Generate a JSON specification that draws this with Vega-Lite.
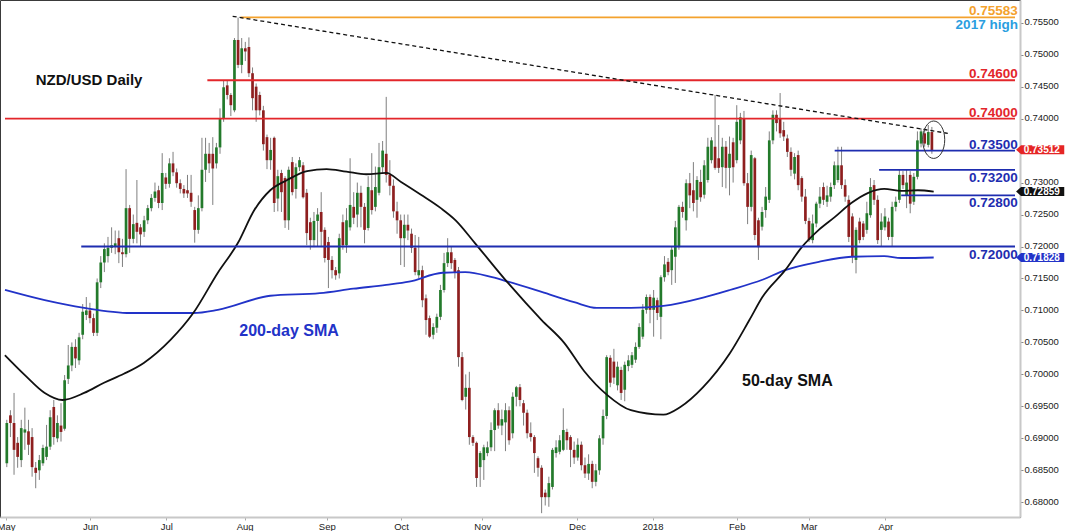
{
"$schema":"https://vega.github.io/schema/vega-lite/v6.json",
"width":1020,"height":517,
"autosize":{"type":"none"},
"padding":{"left":0,"top":0,"right":50,"bottom":14},
"background":"white",
"config":{"view":{"stroke":"#3a3a3a","strokeWidth":1},"font":"Liberation Sans"},
"resolve":{"axis":{"x":"independent","y":"independent"}},
"datasets":{
"candles":[
{"i":0,"o":0.6861,"h":0.6929,"l":0.6855,"c":0.6924},
{"i":1,"o":0.6936,"h":0.6944,"l":0.6902,"c":0.6924},
{"i":2,"o":0.6924,"h":0.6971,"l":0.6843,"c":0.6882},
{"i":3,"o":0.6893,"h":0.6902,"l":0.6854,"c":0.6871},
{"i":4,"o":0.6866,"h":0.6929,"l":0.6855,"c":0.6916},
{"i":5,"o":0.6909,"h":0.6948,"l":0.6882,"c":0.6914},
{"i":6,"o":0.6911,"h":0.6929,"l":0.6874,"c":0.6890},
{"i":7,"o":0.6902,"h":0.6916,"l":0.6840,"c":0.6855},
{"i":8,"o":0.6854,"h":0.6863,"l":0.6822,"c":0.6846},
{"i":9,"o":0.6850,"h":0.6874,"l":0.6835,"c":0.6866},
{"i":10,"o":0.6861,"h":0.6890,"l":0.6857,"c":0.6885},
{"i":11,"o":0.6871,"h":0.6921,"l":0.6866,"c":0.6887},
{"i":12,"o":0.6887,"h":0.6944,"l":0.6882,"c":0.6933},
{"i":13,"o":0.6949,"h":0.6960,"l":0.6890,"c":0.6902},
{"i":14,"o":0.6900,"h":0.6936,"l":0.6894,"c":0.6924},
{"i":15,"o":0.6920,"h":0.6955,"l":0.6895,"c":0.6910},
{"i":16,"o":0.6915,"h":0.6999,"l":0.6912,"c":0.6991},
{"i":17,"o":0.6993,"h":0.7046,"l":0.6985,"c":0.7014},
{"i":18,"o":0.7014,"h":0.7050,"l":0.7005,"c":0.7043},
{"i":19,"o":0.7043,"h":0.7055,"l":0.7010,"c":0.7025},
{"i":20,"o":0.7022,"h":0.7065,"l":0.7015,"c":0.7058},
{"i":21,"o":0.7062,"h":0.7110,"l":0.7055,"c":0.7098},
{"i":22,"o":0.7093,"h":0.7121,"l":0.7085,"c":0.7100},
{"i":23,"o":0.7100,"h":0.7112,"l":0.7080,"c":0.7088},
{"i":24,"o":0.7088,"h":0.7095,"l":0.7060,"c":0.7065},
{"i":25,"o":0.7065,"h":0.7150,"l":0.7060,"c":0.7144},
{"i":26,"o":0.7144,"h":0.7185,"l":0.7135,"c":0.7175},
{"i":27,"o":0.7175,"h":0.7205,"l":0.7160,"c":0.7196},
{"i":28,"o":0.7185,"h":0.7215,"l":0.7175,"c":0.7198},
{"i":29,"o":0.7198,"h":0.7230,"l":0.7190,"c":0.7202},
{"i":30,"o":0.7200,"h":0.7225,"l":0.7188,"c":0.7205},
{"i":31,"o":0.7213,"h":0.7225,"l":0.7174,"c":0.7191},
{"i":32,"o":0.7191,"h":0.7212,"l":0.7168,"c":0.7188},
{"i":33,"o":0.7188,"h":0.7321,"l":0.7183,"c":0.7260},
{"i":34,"o":0.7260,"h":0.7265,"l":0.7190,"c":0.7212},
{"i":35,"o":0.7212,"h":0.7250,"l":0.7205,"c":0.7235},
{"i":36,"o":0.7237,"h":0.7304,"l":0.7205,"c":0.7223},
{"i":37,"o":0.7230,"h":0.7235,"l":0.7200,"c":0.7219},
{"i":38,"o":0.7223,"h":0.7248,"l":0.7215,"c":0.7241},
{"i":39,"o":0.7241,"h":0.7265,"l":0.7235,"c":0.7260},
{"i":40,"o":0.7260,"h":0.7282,"l":0.7255,"c":0.7276},
{"i":41,"o":0.7276,"h":0.7300,"l":0.7270,"c":0.7286},
{"i":42,"o":0.7288,"h":0.7295,"l":0.7260,"c":0.7268},
{"i":43,"o":0.7268,"h":0.7346,"l":0.7257,"c":0.7315},
{"i":44,"o":0.7308,"h":0.7315,"l":0.7290,"c":0.7298},
{"i":45,"o":0.7298,"h":0.7338,"l":0.7292,"c":0.7330},
{"i":46,"o":0.7330,"h":0.7348,"l":0.7310,"c":0.7316},
{"i":47,"o":0.7316,"h":0.7322,"l":0.7292,"c":0.7299},
{"i":48,"o":0.7299,"h":0.7305,"l":0.7283,"c":0.7290},
{"i":49,"o":0.7290,"h":0.7296,"l":0.7276,"c":0.7283},
{"i":50,"o":0.7288,"h":0.7312,"l":0.7276,"c":0.7283},
{"i":51,"o":0.7284,"h":0.7312,"l":0.7262,"c":0.7270},
{"i":52,"o":0.7257,"h":0.7262,"l":0.7206,"c":0.7226},
{"i":53,"o":0.7226,"h":0.7280,"l":0.7220,"c":0.7260},
{"i":54,"o":0.7260,"h":0.7370,"l":0.7255,"c":0.7320},
{"i":55,"o":0.7320,"h":0.7370,"l":0.7301,"c":0.7345},
{"i":56,"o":0.7345,"h":0.7362,"l":0.7315,"c":0.7330},
{"i":57,"o":0.7345,"h":0.7371,"l":0.7265,"c":0.7322},
{"i":58,"o":0.7330,"h":0.7362,"l":0.7322,"c":0.7355},
{"i":59,"o":0.7355,"h":0.7416,"l":0.7345,"c":0.7401},
{"i":60,"o":0.7401,"h":0.7460,"l":0.7395,"c":0.7449},
{"i":61,"o":0.7452,"h":0.7460,"l":0.7430,"c":0.7437},
{"i":62,"o":0.7437,"h":0.7440,"l":0.7404,"c":0.7421},
{"i":63,"o":0.7413,"h":0.7526,"l":0.7410,"c":0.7523},
{"i":64,"o":0.7523,"h":0.7558,"l":0.7479,"c":0.7484},
{"i":65,"o":0.7484,"h":0.7526,"l":0.7471,"c":0.7510},
{"i":66,"o":0.7510,"h":0.7520,"l":0.7490,"c":0.7505},
{"i":67,"o":0.7512,"h":0.7527,"l":0.7465,"c":0.7471},
{"i":68,"o":0.7471,"h":0.7480,"l":0.7413,"c":0.7432},
{"i":69,"o":0.7450,"h":0.7455,"l":0.7395,"c":0.7413},
{"i":70,"o":0.7437,"h":0.7442,"l":0.7405,"c":0.7413},
{"i":71,"o":0.7413,"h":0.7420,"l":0.7350,"c":0.7360},
{"i":72,"o":0.7371,"h":0.7375,"l":0.7321,"c":0.7335},
{"i":73,"o":0.7335,"h":0.7370,"l":0.7320,"c":0.7351},
{"i":74,"o":0.7370,"h":0.7372,"l":0.7254,"c":0.7268},
{"i":75,"o":0.7275,"h":0.7320,"l":0.7255,"c":0.7310},
{"i":76,"o":0.7315,"h":0.7320,"l":0.7254,"c":0.7285},
{"i":77,"o":0.7307,"h":0.7310,"l":0.7229,"c":0.7241},
{"i":78,"o":0.7241,"h":0.7325,"l":0.7226,"c":0.7320},
{"i":79,"o":0.7332,"h":0.7340,"l":0.7280,"c":0.7285},
{"i":80,"o":0.7290,"h":0.7330,"l":0.7275,"c":0.7324},
{"i":81,"o":0.7324,"h":0.7340,"l":0.7318,"c":0.7335},
{"i":82,"o":0.7327,"h":0.7332,"l":0.7275,"c":0.7277},
{"i":83,"o":0.7284,"h":0.7290,"l":0.7202,"c":0.7221},
{"i":84,"o":0.7238,"h":0.7245,"l":0.7195,"c":0.7210},
{"i":85,"o":0.7210,"h":0.7254,"l":0.7199,"c":0.7240},
{"i":86,"o":0.7240,"h":0.7260,"l":0.7200,"c":0.7250},
{"i":87,"o":0.7254,"h":0.7285,"l":0.7199,"c":0.7223},
{"i":88,"o":0.7226,"h":0.7230,"l":0.7175,"c":0.7182},
{"i":89,"o":0.7207,"h":0.7215,"l":0.7135,"c":0.7179},
{"i":90,"o":0.7179,"h":0.7185,"l":0.7150,"c":0.7163},
{"i":91,"o":0.7163,"h":0.7168,"l":0.7148,"c":0.7155},
{"i":92,"o":0.7158,"h":0.7220,"l":0.7150,"c":0.7213},
{"i":93,"o":0.7238,"h":0.7250,"l":0.7195,"c":0.7202},
{"i":94,"o":0.7202,"h":0.7260,"l":0.7190,"c":0.7241},
{"i":95,"o":0.7230,"h":0.7338,"l":0.7225,"c":0.7265},
{"i":96,"o":0.7262,"h":0.7285,"l":0.7235,"c":0.7245},
{"i":97,"o":0.7250,"h":0.7300,"l":0.7230,"c":0.7284},
{"i":98,"o":0.7284,"h":0.7295,"l":0.7230,"c":0.7262},
{"i":99,"o":0.7262,"h":0.7268,"l":0.7205,"c":0.7226},
{"i":100,"o":0.7229,"h":0.7310,"l":0.7225,"c":0.7293},
{"i":101,"o":0.7288,"h":0.7346,"l":0.7250,"c":0.7257},
{"i":102,"o":0.7262,"h":0.7325,"l":0.7255,"c":0.7293},
{"i":103,"o":0.7284,"h":0.7362,"l":0.7280,"c":0.7324},
{"i":104,"o":0.7324,"h":0.7365,"l":0.7315,"c":0.7350},
{"i":105,"o":0.7345,"h":0.7434,"l":0.7300,"c":0.7312},
{"i":106,"o":0.7312,"h":0.7335,"l":0.7280,"c":0.7295},
{"i":107,"o":0.7295,"h":0.7305,"l":0.7245,"c":0.7255},
{"i":108,"o":0.7255,"h":0.7270,"l":0.7220,"c":0.7241},
{"i":109,"o":0.7241,"h":0.7250,"l":0.7171,"c":0.7213},
{"i":110,"o":0.7213,"h":0.7250,"l":0.7168,"c":0.7234},
{"i":111,"o":0.7234,"h":0.7250,"l":0.7210,"c":0.7225},
{"i":112,"o":0.7220,"h":0.7228,"l":0.7190,"c":0.7198},
{"i":113,"o":0.7198,"h":0.7218,"l":0.7155,"c":0.7160},
{"i":114,"o":0.7155,"h":0.7215,"l":0.7150,"c":0.7163},
{"i":115,"o":0.7163,"h":0.7170,"l":0.7105,"c":0.7116},
{"i":116,"o":0.7119,"h":0.7125,"l":0.7062,"c":0.7085},
{"i":117,"o":0.7088,"h":0.7092,"l":0.7057,"c":0.7059},
{"i":118,"o":0.7062,"h":0.7080,"l":0.7055,"c":0.7074},
{"i":119,"o":0.7073,"h":0.7095,"l":0.7065,"c":0.7090},
{"i":120,"o":0.7090,"h":0.7140,"l":0.7085,"c":0.7132},
{"i":121,"o":0.7132,"h":0.7190,"l":0.7128,"c":0.7174},
{"i":122,"o":0.7174,"h":0.7213,"l":0.7168,"c":0.7191},
{"i":123,"o":0.7191,"h":0.7200,"l":0.7165,"c":0.7174},
{"i":124,"o":0.7179,"h":0.7182,"l":0.7150,"c":0.7160},
{"i":125,"o":0.7163,"h":0.7168,"l":0.7012,"c":0.7027},
{"i":126,"o":0.7027,"h":0.7035,"l":0.6958,"c":0.6960},
{"i":127,"o":0.6965,"h":0.7000,"l":0.6945,"c":0.6979},
{"i":128,"o":0.6979,"h":0.7004,"l":0.6890,"c":0.6902},
{"i":129,"o":0.6902,"h":0.6905,"l":0.6888,"c":0.6893},
{"i":130,"o":0.6893,"h":0.6895,"l":0.6824,"c":0.6838},
{"i":131,"o":0.6855,"h":0.6880,"l":0.6824,"c":0.6877},
{"i":132,"o":0.6866,"h":0.6890,"l":0.6835,"c":0.6886},
{"i":133,"o":0.6877,"h":0.6895,"l":0.6872,"c":0.6886},
{"i":134,"o":0.6886,"h":0.6925,"l":0.6880,"c":0.6913},
{"i":135,"o":0.6913,"h":0.6947,"l":0.6880,"c":0.6944},
{"i":136,"o":0.6944,"h":0.6955,"l":0.6915,"c":0.6920},
{"i":137,"o":0.6920,"h":0.6945,"l":0.6905,"c":0.6930},
{"i":138,"o":0.6925,"h":0.6955,"l":0.6880,"c":0.6944},
{"i":139,"o":0.6944,"h":0.6950,"l":0.6890,"c":0.6897},
{"i":140,"o":0.6908,"h":0.6972,"l":0.6900,"c":0.6965},
{"i":141,"o":0.6965,"h":0.6982,"l":0.6950,"c":0.6980},
{"i":142,"o":0.6980,"h":0.6985,"l":0.6950,"c":0.6960},
{"i":143,"o":0.6955,"h":0.6960,"l":0.6920,"c":0.6940},
{"i":144,"o":0.6940,"h":0.6945,"l":0.6900,"c":0.6908},
{"i":145,"o":0.6908,"h":0.6925,"l":0.6895,"c":0.6902},
{"i":146,"o":0.6902,"h":0.6905,"l":0.6846,"c":0.6877},
{"i":147,"o":0.6869,"h":0.6872,"l":0.6840,"c":0.6854},
{"i":148,"o":0.6854,"h":0.6858,"l":0.6783,"c":0.6808},
{"i":149,"o":0.6815,"h":0.6820,"l":0.6795,"c":0.6808},
{"i":150,"o":0.6808,"h":0.6840,"l":0.6793,"c":0.6830},
{"i":151,"o":0.6824,"h":0.6885,"l":0.6820,"c":0.6882},
{"i":152,"o":0.6877,"h":0.6897,"l":0.6870,"c":0.6886},
{"i":153,"o":0.6879,"h":0.6905,"l":0.6875,"c":0.6897},
{"i":154,"o":0.6882,"h":0.6947,"l":0.6880,"c":0.6913},
{"i":155,"o":0.6910,"h":0.6915,"l":0.6882,"c":0.6897},
{"i":156,"o":0.6902,"h":0.6905,"l":0.6855,"c":0.6882},
{"i":157,"o":0.6882,"h":0.6895,"l":0.6860,"c":0.6870},
{"i":158,"o":0.6870,"h":0.6900,"l":0.6865,"c":0.6890},
{"i":159,"o":0.6890,"h":0.6895,"l":0.6850,"c":0.6858},
{"i":160,"o":0.6858,"h":0.6870,"l":0.6838,"c":0.6845},
{"i":161,"o":0.6845,"h":0.6875,"l":0.6835,"c":0.6860},
{"i":162,"o":0.6860,"h":0.6865,"l":0.6822,"c":0.6832},
{"i":163,"o":0.6832,"h":0.6860,"l":0.6825,"c":0.6850},
{"i":164,"o":0.6850,"h":0.6905,"l":0.6843,"c":0.6900},
{"i":165,"o":0.6900,"h":0.6945,"l":0.6890,"c":0.6935},
{"i":166,"o":0.6935,"h":0.7030,"l":0.6930,"c":0.7027},
{"i":167,"o":0.7026,"h":0.7030,"l":0.6980,"c":0.6987},
{"i":168,"o":0.7020,"h":0.7040,"l":0.6985,"c":0.6995},
{"i":169,"o":0.6983,"h":0.7020,"l":0.6975,"c":0.7012},
{"i":170,"o":0.7007,"h":0.7012,"l":0.6960,"c":0.6971},
{"i":171,"o":0.6976,"h":0.7020,"l":0.6958,"c":0.7015},
{"i":172,"o":0.7013,"h":0.7030,"l":0.7005,"c":0.7022},
{"i":173,"o":0.7015,"h":0.7035,"l":0.7010,"c":0.7030},
{"i":174,"o":0.7023,"h":0.7050,"l":0.7018,"c":0.7043},
{"i":175,"o":0.7043,"h":0.7080,"l":0.7040,"c":0.7074},
{"i":176,"o":0.7059,"h":0.7110,"l":0.7055,"c":0.7101},
{"i":177,"o":0.7101,"h":0.7125,"l":0.7095,"c":0.7121},
{"i":178,"o":0.7121,"h":0.7125,"l":0.7080,"c":0.7101},
{"i":179,"o":0.7101,"h":0.7132,"l":0.7059,"c":0.7120},
{"i":180,"o":0.7116,"h":0.7120,"l":0.7085,"c":0.7096},
{"i":181,"o":0.7090,"h":0.7155,"l":0.7055,"c":0.7152},
{"i":182,"o":0.7152,"h":0.7185,"l":0.7145,"c":0.7172},
{"i":183,"o":0.7176,"h":0.7182,"l":0.7155,"c":0.7160},
{"i":184,"o":0.7163,"h":0.7200,"l":0.7140,"c":0.7195},
{"i":185,"o":0.7184,"h":0.7240,"l":0.7143,"c":0.7230},
{"i":186,"o":0.7199,"h":0.7265,"l":0.7195,"c":0.7262},
{"i":187,"o":0.7262,"h":0.7270,"l":0.7245,"c":0.7254},
{"i":188,"o":0.7241,"h":0.7305,"l":0.7225,"c":0.7299},
{"i":189,"o":0.7299,"h":0.7315,"l":0.7260,"c":0.7280},
{"i":190,"o":0.7288,"h":0.7332,"l":0.7255,"c":0.7268},
{"i":191,"o":0.7273,"h":0.7310,"l":0.7245,"c":0.7304},
{"i":192,"o":0.7301,"h":0.7320,"l":0.7270,"c":0.7277},
{"i":193,"o":0.7281,"h":0.7335,"l":0.7275,"c":0.7327},
{"i":194,"o":0.7304,"h":0.7370,"l":0.7300,"c":0.7356},
{"i":195,"o":0.7335,"h":0.7371,"l":0.7330,"c":0.7366},
{"i":196,"o":0.7356,"h":0.7437,"l":0.7320,"c":0.7323},
{"i":197,"o":0.7338,"h":0.7390,"l":0.7315,"c":0.7323},
{"i":198,"o":0.7324,"h":0.7370,"l":0.7293,"c":0.7356},
{"i":199,"o":0.7356,"h":0.7365,"l":0.7291,"c":0.7323},
{"i":200,"o":0.7323,"h":0.7372,"l":0.7280,"c":0.7345},
{"i":201,"o":0.7363,"h":0.7370,"l":0.7300,"c":0.7324},
{"i":202,"o":0.7335,"h":0.7421,"l":0.7330,"c":0.7395},
{"i":203,"o":0.7366,"h":0.7409,"l":0.7360,"c":0.7402},
{"i":204,"o":0.7400,"h":0.7412,"l":0.7295,"c":0.7299},
{"i":205,"o":0.7299,"h":0.7315,"l":0.7235,"c":0.7262},
{"i":206,"o":0.7262,"h":0.7350,"l":0.7255,"c":0.7343},
{"i":207,"o":0.7338,"h":0.7340,"l":0.7210,"c":0.7218},
{"i":208,"o":0.7241,"h":0.7245,"l":0.7179,"c":0.7199},
{"i":209,"o":0.7231,"h":0.7262,"l":0.7225,"c":0.7254},
{"i":210,"o":0.7257,"h":0.7293,"l":0.7245,"c":0.7278},
{"i":211,"o":0.7273,"h":0.7380,"l":0.7268,"c":0.7366},
{"i":212,"o":0.7366,"h":0.7413,"l":0.7360,"c":0.7406},
{"i":213,"o":0.7406,"h":0.7413,"l":0.7380,"c":0.7393},
{"i":214,"o":0.7400,"h":0.7440,"l":0.7370,"c":0.7377},
{"i":215,"o":0.7382,"h":0.7395,"l":0.7365,"c":0.7372},
{"i":216,"o":0.7369,"h":0.7375,"l":0.7340,"c":0.7348},
{"i":217,"o":0.7348,"h":0.7355,"l":0.7310,"c":0.7320},
{"i":218,"o":0.7314,"h":0.7346,"l":0.7305,"c":0.7340},
{"i":219,"o":0.7343,"h":0.7350,"l":0.7288,"c":0.7296},
{"i":220,"o":0.7307,"h":0.7310,"l":0.7270,"c":0.7278},
{"i":221,"o":0.7278,"h":0.7290,"l":0.7235,"c":0.7240},
{"i":222,"o":0.7240,"h":0.7245,"l":0.7207,"c":0.7210},
{"i":223,"o":0.7210,"h":0.7250,"l":0.7205,"c":0.7236},
{"i":224,"o":0.7236,"h":0.7270,"l":0.7230,"c":0.7267},
{"i":225,"o":0.7267,"h":0.7293,"l":0.7260,"c":0.7278},
{"i":226,"o":0.7293,"h":0.7300,"l":0.7265,"c":0.7273},
{"i":227,"o":0.7270,"h":0.7295,"l":0.7262,"c":0.7280},
{"i":228,"o":0.7278,"h":0.7300,"l":0.7270,"c":0.7293},
{"i":229,"o":0.7296,"h":0.7333,"l":0.7290,"c":0.7327},
{"i":230,"o":0.7304,"h":0.7356,"l":0.7300,"c":0.7327},
{"i":231,"o":0.7327,"h":0.7356,"l":0.7290,"c":0.7296},
{"i":232,"o":0.7296,"h":0.7305,"l":0.7270,"c":0.7278},
{"i":233,"o":0.7273,"h":0.7280,"l":0.7207,"c":0.7215},
{"i":234,"o":0.7247,"h":0.7252,"l":0.7174,"c":0.7184},
{"i":235,"o":0.7179,"h":0.7230,"l":0.7158,"c":0.7226},
{"i":236,"o":0.7239,"h":0.7245,"l":0.7205,"c":0.7210},
{"i":237,"o":0.7236,"h":0.7240,"l":0.7210,"c":0.7215},
{"i":238,"o":0.7226,"h":0.7270,"l":0.7220,"c":0.7252},
{"i":239,"o":0.7249,"h":0.7307,"l":0.7245,"c":0.7293},
{"i":240,"o":0.7296,"h":0.7304,"l":0.7265,"c":0.7273},
{"i":241,"o":0.7273,"h":0.7280,"l":0.7204,"c":0.7210},
{"i":242,"o":0.7226,"h":0.7252,"l":0.7200,"c":0.7239},
{"i":243,"o":0.7230,"h":0.7260,"l":0.7225,"c":0.7247},
{"i":244,"o":0.7239,"h":0.7245,"l":0.7210,"c":0.7215},
{"i":245,"o":0.7215,"h":0.7270,"l":0.7200,"c":0.7262},
{"i":246,"o":0.7262,"h":0.7278,"l":0.7255,"c":0.7270},
{"i":247,"o":0.7273,"h":0.7320,"l":0.7268,"c":0.7312},
{"i":248,"o":0.7312,"h":0.7318,"l":0.7290,"c":0.7296},
{"i":249,"o":0.7280,"h":0.7320,"l":0.7260,"c":0.7300},
{"i":250,"o":0.7312,"h":0.7318,"l":0.7252,"c":0.7267},
{"i":251,"o":0.7270,"h":0.7315,"l":0.7265,"c":0.7309},
{"i":252,"o":0.7309,"h":0.7380,"l":0.7305,"c":0.7366},
{"i":253,"o":0.7361,"h":0.7385,"l":0.7355,"c":0.7380},
{"i":254,"o":0.7377,"h":0.7385,"l":0.7356,"c":0.7361},
{"i":255,"o":0.7359,"h":0.7390,"l":0.7355,"c":0.7379},
{"i":256,"o":0.7379,"h":0.7387,"l":0.7345,"c":0.7351}
],
"sma50":[
{"i":-0.5,"v":0.7030},{"i":5,"v":0.6999},{"i":10.5,"v":0.6971},{"i":15.4,"v":0.6960},{"i":21.4,"v":0.6971},{"i":26.9,"v":0.6987},{"i":32.4,"v":0.7001},{"i":37.9,"v":0.7018},{"i":45.3,"v":0.7054},{"i":51.6,"v":0.7096},{"i":58.4,"v":0.7159},{"i":63.9,"v":0.7205},{"i":68.5,"v":0.7257},{"i":72.9,"v":0.7288},{"i":77.6,"v":0.7304},{"i":83.1,"v":0.7318},{"i":88.5,"v":0.7321},{"i":94,"v":0.7317},{"i":99.5,"v":0.7313},{"i":105,"v":0.7315},{"i":109.1,"v":0.7301},{"i":114.6,"v":0.7281},{"i":120.1,"v":0.7260},{"i":124.2,"v":0.7241},{"i":129.6,"v":0.7205},{"i":138.7,"v":0.7143},{"i":148,"v":0.7085},{"i":154.3,"v":0.7049},{"i":159.8,"v":0.7005},{"i":166.1,"v":0.6968},{"i":172.7,"v":0.6944},{"i":181.7,"v":0.6937},{"i":186.4,"v":0.6949},{"i":192.7,"v":0.6980},{"i":200.1,"v":0.7033},{"i":205.5,"v":0.7085},{"i":209.1,"v":0.7121},{"i":215.4,"v":0.7163},{"i":220,"v":0.7199},{"i":224.7,"v":0.7226},{"i":229.1,"v":0.7246},{"i":233.7,"v":0.7268},{"i":238.4,"v":0.7284},{"i":242.8,"v":0.7290},{"i":247.5,"v":0.7287},{"i":252.1,"v":0.7288},{"i":256.5,"v":0.72859}
],
"sma200":[
{"i":-0.5,"v":0.7132},{"i":10.5,"v":0.7116},{"i":21.4,"v":0.7104},{"i":34.3,"v":0.7096},{"i":51.6,"v":0.7096},{"i":58.4,"v":0.7101},{"i":72.9,"v":0.7123},{"i":86.6,"v":0.7127},{"i":95.9,"v":0.7134},{"i":105,"v":0.7140},{"i":111.3,"v":0.7145},{"i":120.6,"v":0.7159},{"i":126.9,"v":0.7160},{"i":134.3,"v":0.7152},{"i":138.7,"v":0.7145},{"i":148,"v":0.7129},{"i":157,"v":0.7113},{"i":163.3,"v":0.7104},{"i":172.7,"v":0.7104},{"i":181.7,"v":0.7107},{"i":192.7,"v":0.7120},{"i":200.1,"v":0.7132},{"i":209.1,"v":0.7148},{"i":215.4,"v":0.7163},{"i":224.7,"v":0.7176},{"i":233.7,"v":0.7184},{"i":242.8,"v":0.7185},{"i":247.5,"v":0.7182},{"i":256.5,"v":0.71828}
],
"levels":[
{"i":64.7,"i2":279,"v":0.75583,"kind":"high","label":"0.75583","side":"above"},
{"i":55.5,"i2":279,"v":0.746,"kind":"res","label":"0.74600","side":"above"},
{"i":-0.5,"i2":279,"v":0.74,"kind":"res","label":"0.74000","side":"above"},
{"i":229.1,"i2":279,"v":0.735,"kind":"sup","label":"0.73500","side":"above"},
{"i":241.4,"i2":279,"v":0.732,"kind":"sup","label":"0.73200","side":"below"},
{"i":247.5,"i2":279,"v":0.728,"kind":"sup","label":"0.72800","side":"below"},
{"i":20.6,"i2":279,"v":0.72,"kind":"sup","label":"0.72000","side":"below"}
],
"tags":[
{"v":0.73512,"label":"0.73512","kind":"price"},
{"v":0.72859,"label":"0.72859","kind":"sma50"},
{"v":0.71828,"label":"0.71828","kind":"sma200"}
]
},
"layer":[
{"data":{"name":"candles"},
 "mark":{"type":"rule","color":"#7f7f7f","strokeWidth":1},
 "encoding":{
  "x":{"field":"i","type":"quantitative","scale":{"domain":[-0.5,279],"nice":false,"zero":false},
   "axis":{"title":null,"grid":false,"values":[-0.2,23.07,44.17,65.81,88.56,109.11,131.58,157.8,178.7,202,221.9,243.1],
    "labelExpr":"datum.value < 10 ? 'May' : datum.value < 30 ? 'Jun' : datum.value < 50 ? 'Jul' : datum.value < 70 ? 'Aug' : datum.value < 100 ? 'Sep' : datum.value < 120 ? 'Oct' : datum.value < 140 ? 'Nov' : datum.value < 170 ? 'Dec' : datum.value < 190 ? '2018' : datum.value < 210 ? 'Feb' : datum.value < 230 ? 'Mar' : 'Apr'",
    "labelFlush":false,"labelOverlap":false,"labelBound":false,"domainColor":"#c8c8c8","domainWidth":2,"tickColor":"#aaaaaa","tickSize":3,"labelFontSize":9.5,"labelColor":"#1a1a1a","labelPadding":1}},
  "y":{"field":"l","type":"quantitative","scale":{"domain":[0.6777,0.75855],"nice":false,"zero":false},
   "axis":{"title":null,"grid":false,"orient":"right","values":[0.68,0.685,0.69,0.695,0.7,0.705,0.71,0.715,0.72,0.725,0.73,0.74,0.745,0.75,0.755],"format":".5f",
    "domainColor":"#c8c8c8","domainWidth":2,"tickColor":"#888888","tickSize":3,"labelFontSize":9.5,"labelColor":"#1a1a1a","labelPadding":1,"labelOffset":-1,"labelOverlap":false}},
  "y2":{"field":"h"}
 }},
{"data":{"name":"candles"},
 "mark":{"type":"bar","width":2.7,"minBandSize":1},
 "encoding":{
  "x":{"field":"i","type":"quantitative","axis":null},
  "y":{"field":"o","type":"quantitative","axis":null},
  "y2":{"field":"c"},
  "color":{"condition":{"test":"datum.c >= datum.o","value":"#237a2b"},"value":"#8e1f1f"}
 }},
{"data":{"name":"sma200"},
 "mark":{"type":"line","color":"#2233c8","strokeWidth":1.8,"interpolate":"monotone"},
 "encoding":{"x":{"field":"i","type":"quantitative","axis":null},"y":{"field":"v","type":"quantitative","axis":null}}},
{"data":{"name":"sma50"},
 "mark":{"type":"line","color":"#111111","strokeWidth":1.8,"interpolate":"monotone"},
 "encoding":{"x":{"field":"i","type":"quantitative","axis":null},"y":{"field":"v","type":"quantitative","axis":null}}},
{"data":{"name":"levels"},
 "mark":{"type":"rule","strokeWidth":1.8},
 "encoding":{
  "x":{"field":"i","type":"quantitative","axis":null},
  "x2":{"field":"i2"},
  "y":{"field":"v","type":"quantitative","axis":null},
  "color":{"field":"kind","type":"nominal","legend":null,
   "scale":{"domain":["high","res","sup","price","sma50","sma200","note","highnote"],"range":["#f4a22d","#e3262b","#1e2db0","#e52525","#111111","#2233c8","#111111","#2a9ee0"]}}
 }},
{"data":{"values":[{"i":62.5,"v":0.7560},{"i":260.4,"v":0.7377}]},
 "mark":{"type":"line","color":"#111111","strokeWidth":1.3,"strokeDash":[4,3]},
 "encoding":{"x":{"field":"i","type":"quantitative","axis":null},"y":{"field":"v","type":"quantitative","axis":null}}},
{"data":{"name":"levels"},
 "transform":[{"filter":"datum.side == 'above'"}],
 "mark":{"type":"text","align":"right","baseline":"alphabetic","dy":-2,"fontSize":13.5,"fontWeight":"bold"},
 "encoding":{"x":{"datum":279.8,"type":"quantitative","axis":null},"y":{"field":"v","type":"quantitative","axis":null},"text":{"field":"label"},"color":{"field":"kind","type":"nominal","legend":null}}},
{"data":{"name":"levels"},
 "transform":[{"filter":"datum.side == 'below'"}],
 "mark":{"type":"text","align":"right","baseline":"top","dy":1,"fontSize":13.5,"fontWeight":"bold"},
 "encoding":{"x":{"datum":279.8,"type":"quantitative","axis":null},"y":{"field":"v","type":"quantitative","axis":null},"text":{"field":"label"},"color":{"field":"kind","type":"nominal","legend":null}}},
{"data":{"values":[{"v":0.75583,"text":"2017 high","kind":"highnote"}]},
 "mark":{"type":"text","align":"right","baseline":"top","dy":1,"fontSize":13.5,"fontWeight":"bold"},
 "encoding":{"x":{"datum":279.8,"type":"quantitative","axis":null},"y":{"field":"v","type":"quantitative","axis":null},"text":{"field":"text"},"color":{"field":"kind","type":"nominal","legend":null}}},
{"data":{"values":[{"i":8.0,"v":0.7460,"text":"NZD/USD Daily","kind":"note"}]},
 "mark":{"type":"text","align":"left","baseline":"middle","fontSize":15,"fontWeight":"bold"},
 "encoding":{"x":{"field":"i","type":"quantitative","axis":null},"y":{"field":"v","type":"quantitative","axis":null},"text":{"field":"text"},"color":{"field":"kind","type":"nominal","legend":null}}},
{"data":{"values":[{"i":78.1,"v":0.7068,"text":"200-day SMA","kind":"sma200"},{"i":216,"v":0.6990,"text":"50-day SMA","kind":"sma50"}]},
 "mark":{"type":"text","align":"center","baseline":"middle","fontSize":16,"fontWeight":"bold"},
 "encoding":{"x":{"field":"i","type":"quantitative","axis":null},"y":{"field":"v","type":"quantitative","axis":null},"text":{"field":"text"},"color":{"field":"kind","type":"nominal","legend":null}}},
{"data":{"name":"tags"},
 "mark":{"type":"point","shape":"M0,0L1.1,-1L10.7,-1L10.7,1L1.1,1Z","size":81,"filled":true,"opacity":1,"strokeWidth":0},
 "encoding":{"x":{"datum":279.3,"type":"quantitative","axis":null},"y":{"field":"v","type":"quantitative","axis":null},"color":{"field":"kind","type":"nominal","legend":null}}},
{"data":{"name":"tags"},
 "mark":{"type":"text","align":"center","baseline":"middle","fontSize":10,"fontWeight":"bold","color":"#ffffff"},
 "encoding":{"x":{"datum":286.4,"type":"quantitative","axis":null},"y":{"field":"v","type":"quantitative","axis":null},"text":{"field":"label"}}},
{"data":{"values":[{"i":256.5,"v":0.7367}]},
 "mark":{"type":"point","shape":"M -0.59 0 A 0.59 1 0 1 0 0.59 0 A 0.59 1 0 1 0 -0.59 0 Z","size":1400,"filled":false,"color":"#333333","strokeWidth":1,"opacity":1},
 "encoding":{"x":{"field":"i","type":"quantitative","axis":null},"y":{"field":"v","type":"quantitative","axis":null}}}
]
}
